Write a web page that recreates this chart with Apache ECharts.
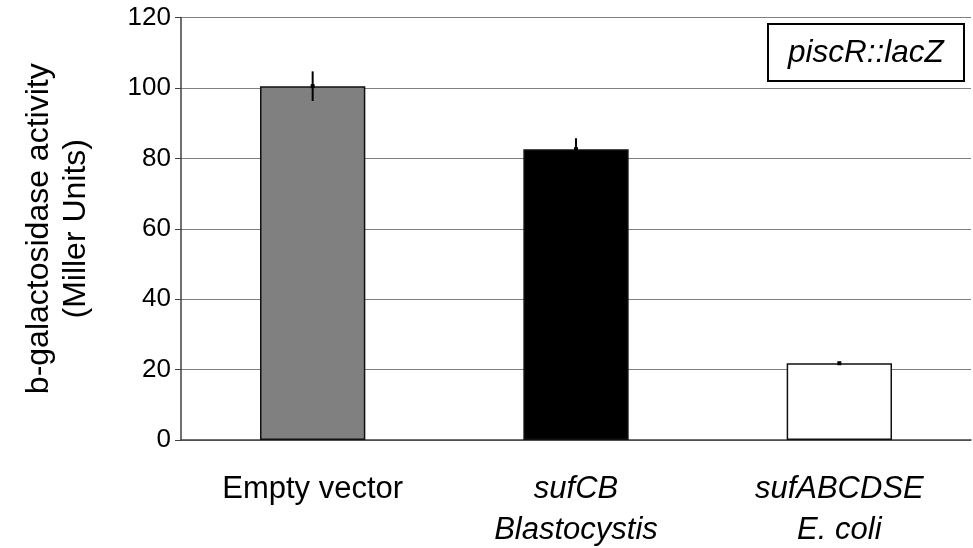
<!DOCTYPE html>
<html>
<head>
<meta charset="utf-8">
<script src="https://cdn.jsdelivr.net/npm/echarts@6/dist/echarts.min.js"></script>
<style>
  html, body { margin: 0; padding: 0; background: #fff; }
  #chart { width: 973px; height: 548px; }
</style>
</head>
<body>
<div id="chart"></div>
<script>
// β-galactosidase reporter activity for three constructs
const categories = ['Empty vector', 'sufCB\nBlastocystis', 'sufABCDSE\nE. coli'];
const italicCategory = [false, true, true];
const activity = [100.5, 82.6, 21.8];
const errors = [4.2, 3.1, 0.4];
const barColors = ['#808080', '#000000', '#ffffff'];
const yTicks = [0, 20, 40, 60, 80, 100, 120];

const FONT = 'Liberation Sans, Arial, sans-serif';

const chart = echarts.init(document.getElementById('chart'));

chart.setOption({
  animation: false,
  backgroundColor: '#ffffff',
  grid: { left: 181, right: 2, top: 17.5, bottom: 108, containLabel: false },
  title: {
    text: 'piscR::lacZ',
    left: 768,
    top: 24,
    padding: [13, 20, 12, 20],
    borderColor: '#000',
    borderWidth: 2,
    textStyle: {
      fontFamily: FONT, fontSize: 31.5, fontStyle: 'italic',
      fontWeight: 'normal', color: '#000', lineHeight: 32
    }
  },
  xAxis: {
    type: 'category',
    data: categories,
    axisLine: { lineStyle: { color: '#404040', width: 1.5 } },
    axisTick: { show: false },
    axisLabel: {
      margin: 29,
      interval: 0,
      formatter: (value, idx) => {
        const style = italicCategory[idx] ? 'i' : 'n';
        return value.split('\n').map(s => '{' + style + '|' + s + '}').join('\n');
      },
      rich: {
        n: { fontFamily: FONT, fontSize: 31, color: '#000', lineHeight: 41 },
        i: { fontFamily: FONT, fontSize: 31, fontStyle: 'italic', color: '#000', lineHeight: 41 }
      }
    }
  },
  yAxis: {
    type: 'value',
    min: yTicks[0],
    max: yTicks[yTicks.length - 1],
    interval: yTicks[1] - yTicks[0],
    name: 'b-galactosidase activity\n(Miller Units)',
    nameLocation: 'middle',
    nameGap: 86,
    nameTextStyle: { fontFamily: FONT, fontSize: 32, color: '#000', lineHeight: 37 },
    axisLine: { show: true, lineStyle: { color: '#404040', width: 1.5 } },
    axisTick: { show: true, length: 6, lineStyle: { color: '#404040', width: 1 } },
    axisLabel: { fontFamily: FONT, fontSize: 26, color: '#000', margin: 10 },
    splitLine: { lineStyle: { color: '#808080', width: 1 } }
  },
  series: [
    {
      type: 'bar',
      barWidth: '40%',
      data: activity.map((v, i) => ({
        value: v,
        itemStyle: { color: barColors[i], borderColor: '#111', borderWidth: 1.5 }
      })),
      z: 2
    },
    {
      // error bars with a small marker at the mean
      type: 'custom',
      z: 5,
      data: activity.map((v, i) => [i, v, errors[i]]),
      renderItem: (params, api) => {
        const x = api.value(0);
        const v = api.value(1);
        const e = api.value(2);
        const top = api.coord([x, v + e]);
        const bot = api.coord([x, v - e]);
        const mid = api.coord([x, v]);
        return {
          type: 'group',
          children: [
            {
              type: 'line',
              shape: { x1: top[0], y1: top[1], x2: bot[0], y2: bot[1] },
              style: { stroke: '#000', lineWidth: 2 }
            },
            {
              type: 'rect',
              shape: { x: mid[0] - 2, y: mid[1] - 2, width: 4, height: 4 },
              style: { fill: '#000' }
            }
          ]
        };
      }
    }
  ]
});
</script>
</body>
</html>
